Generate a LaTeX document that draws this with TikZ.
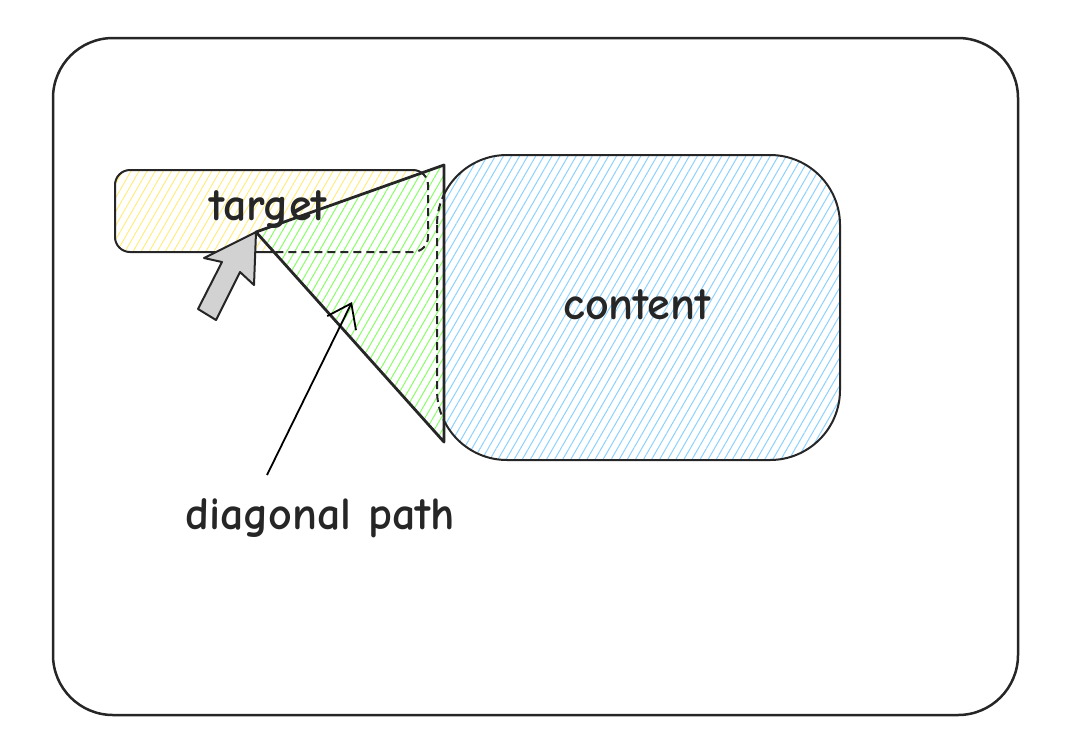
\documentclass[tikz,border=0pt]{standalone}
\usepackage{fontspec}
\setmainfont{Comic Neue}[Scale=1]
\usetikzlibrary{patterns.meta,arrows.meta}
\begin{document}
\begin{tikzpicture}[x=1pt,y=-1pt,
  box/.style={draw=black!85,line width=2pt},
  hatch/.style={pattern={Lines[angle=60,distance=7pt,line width=1pt]},pattern color=#1},
  lbl/.style={font=\fontsize{46}{46}\selectfont\bfseries,text=black!85}]
\useasboundingbox (0,0) rectangle (1070,748);
\draw[box,line width=2.5pt,rounded corners=60] (53,38) rectangle (1018,715);
\coordinate (ta) at (115,170); \coordinate (tb) at (428,252);
\coordinate (ca) at (437,155); \coordinate (cb) at (840,460);
\path[hatch=yellow!70!orange!50,rounded corners=15] (ta) rectangle (tb);
\draw[box,rounded corners=15] (ta) rectangle (tb);
\path[hatch=blue!40!cyan!45,rounded corners=70] (ca) rectangle (cb);
\draw[box,rounded corners=70] (ca) rectangle (cb);
\coordinate (p1) at (256,232); \coordinate (p2) at (444,165); \coordinate (p3) at (444,442);
\begin{scope}
\clip (p1) -- (p2) -- (p3) -- cycle;
\fill[white] (p1) -- (p2) -- (p3) -- cycle;
\path[hatch=green!70!lime!60] (p1) -- (p2) -- (p3) -- cycle;
\draw[box,dashed,dash pattern=on 8pt off 5pt,rounded corners=15] (ta) rectangle (tb);
\draw[box,dashed,dash pattern=on 8pt off 5pt,rounded corners=70] (ca) rectangle (cb);
\end{scope}
\draw[box,line width=2.8pt,line join=round] (p1) -- (p2) -- (p3) -- cycle;
\node[lbl] (t) at (268,210) {target};
\node[lbl] (c) at (637,305) {content};
\node[lbl] (d) at (320,518) {diagonal path};
\coordinate (ae) at (267,475); \coordinate (ah) at (352,302);
\draw[line width=1.8pt,-{Straight Barb[length=22pt,width=32pt]}] (ae) -- (ah);
\filldraw[fill=gray!35,draw=black!85,line width=2pt,line join=round]
 (256,232) -- (254,285) -- (240,272) -- (216,320) -- (198,309) -- (222,262) -- (204,258) -- cycle;
\end{tikzpicture}
\end{document}
